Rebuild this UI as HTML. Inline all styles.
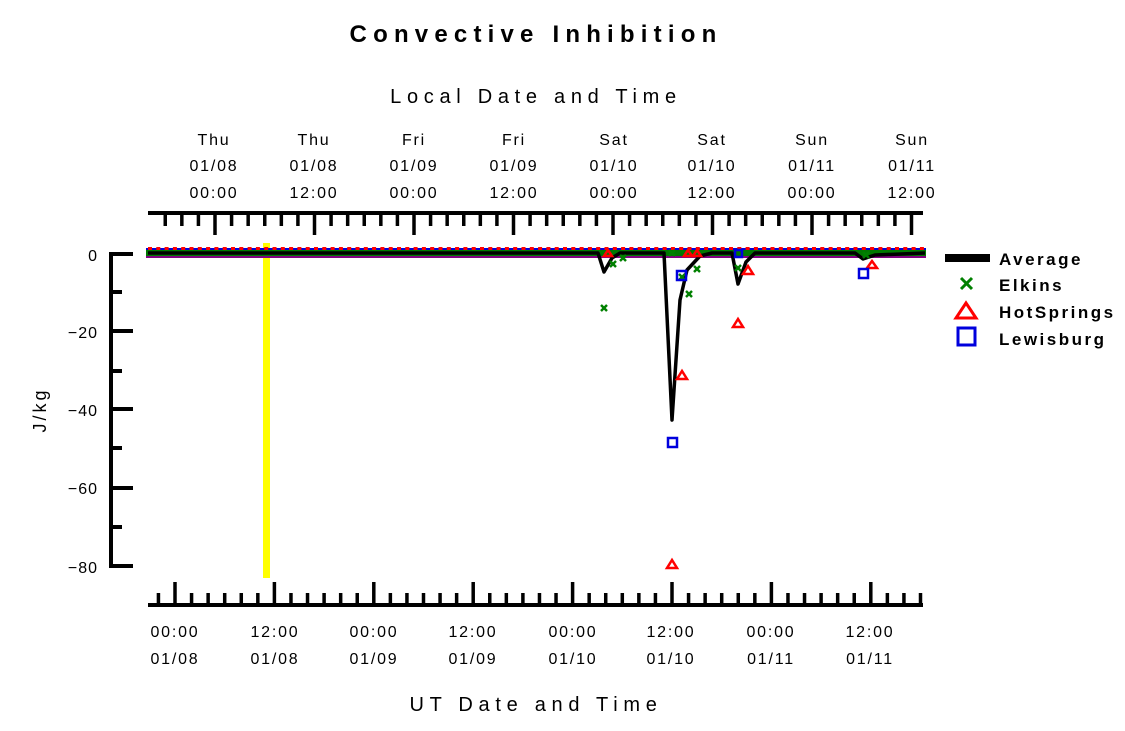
<!DOCTYPE html>
<html><head><meta charset="utf-8"><style>
html,body{margin:0;padding:0;background:#fff;}
svg{display:block;font-family:"Liberation Sans",sans-serif;}
.t{font-size:16px;letter-spacing:1.8px;text-anchor:middle;fill:#000;}
.yl{font-size:16px;letter-spacing:1px;text-anchor:end;}
.lg{font-size:17px;font-weight:bold;letter-spacing:2.5px;}
</style></head><body>
<svg id="s" width="1125" height="731" viewBox="0 0 1125 731" xmlns="http://www.w3.org/2000/svg">
<text x="536" y="42" style="font-size:24px;font-weight:bold;letter-spacing:6.2px;text-anchor:middle">Convective Inhibition</text>
<text x="536" y="103" style="font-size:20px;letter-spacing:5.7px;text-anchor:middle">Local Date and Time</text>
<text x="536" y="711" style="font-size:20px;letter-spacing:5.7px;text-anchor:middle">UT Date and Time</text>
<text transform="translate(46,410) rotate(-90)" style="font-size:18px;letter-spacing:3px;text-anchor:middle">J/kg</text>

<g class="t">
<text x="214" y="145">Thu</text><text x="214" y="171">01/08</text><text x="214" y="198">00:00</text>
<text x="314" y="145">Thu</text><text x="314" y="171">01/08</text><text x="314" y="198">12:00</text>
<text x="414" y="145">Fri</text><text x="414" y="171">01/09</text><text x="414" y="198">00:00</text>
<text x="514" y="145">Fri</text><text x="514" y="171">01/09</text><text x="514" y="198">12:00</text>
<text x="614" y="145">Sat</text><text x="614" y="171">01/10</text><text x="614" y="198">00:00</text>
<text x="712" y="145">Sat</text><text x="712" y="171">01/10</text><text x="712" y="198">12:00</text>
<text x="812" y="145">Sun</text><text x="812" y="171">01/11</text><text x="812" y="198">00:00</text>
<text x="912" y="145">Sun</text><text x="912" y="171">01/11</text><text x="912" y="198">12:00</text>

<text x="175" y="637">00:00</text><text x="175" y="664">01/08</text>
<text x="275" y="637">12:00</text><text x="275" y="664">01/08</text>
<text x="374" y="637">00:00</text><text x="374" y="664">01/09</text>
<text x="473" y="637">12:00</text><text x="473" y="664">01/09</text>
<text x="573" y="637">00:00</text><text x="573" y="664">01/10</text>
<text x="671" y="637">12:00</text><text x="671" y="664">01/10</text>
<text x="771" y="637">00:00</text><text x="771" y="664">01/11</text>
<text x="870" y="637">12:00</text><text x="870" y="664">01/11</text>
</g>
<g class="yl">
<text x="98" y="261">0</text><text x="98" y="338">−20</text><text x="98" y="416">−40</text><text x="98" y="494">−60</text><text x="98" y="573">−80</text>
</g>

<g stroke="#000" stroke-width="4" fill="none">
<line x1="148" y1="213" x2="923" y2="213"/>
<line x1="148" y1="605" x2="923" y2="605"/>
<line x1="111" y1="252" x2="111" y2="568"/>
<line x1="109" y1="254" x2="133" y2="254"/><line x1="109" y1="331" x2="133" y2="331"/><line x1="109" y1="409" x2="133" y2="409"/><line x1="109" y1="488" x2="133" y2="488"/><line x1="109" y1="566" x2="133" y2="566"/>
<line x1="109" y1="292" x2="122" y2="292"/><line x1="109" y1="371" x2="122" y2="371"/><line x1="109" y1="448" x2="122" y2="448"/><line x1="109" y1="527" x2="122" y2="527"/>
</g>
<g id="ticks" stroke="#000" stroke-width="3.5"></g>

<rect x="263" y="243" width="7" height="335" fill="#ffff00"/>

<rect x="146" y="256" width="780" height="2" fill="#800080"/>
<rect x="146" y="248" width="780" height="3" fill="#0000dd"/>
<rect x="146" y="250" width="780" height="6" fill="#007700"/>
<g id="dots" fill="#ff0000"></g>

<polyline fill="none" stroke="#000" stroke-width="3.5" stroke-linejoin="round"
 points="148,253 598,253 604,272 612,258 620,253 664,253 672,420 680,300 687,270 700,256 712,253 732,253 738,284 746,262 755,253 855,253 863,259 875,255 925,253"/>

<g stroke="#008000" stroke-width="2.5" id="xs"></g>
<g stroke="#ff0000" stroke-width="2.5" fill="none">
<path d="M672,560 l-5,8 h10 z"/><path d="M682,371 l-5,8 h10 z"/><path d="M738,319 l-5,8 h10 z"/><path d="M748,266 l-5,8 h10 z"/><path d="M872,261 l-5,7 h10 z"/><path d="M608,250 l-4,6 h8 z"/><path d="M688,250 l-4,6 h8 z"/><path d="M697,250 l-4,6 h8 z"/>
</g>
<g stroke="#0000dd" stroke-width="2.5" fill="none">
<rect x="668" y="438" width="9" height="9"/><rect x="677" y="271" width="9" height="9"/><rect x="859" y="269" width="9" height="9"/><rect x="735" y="250" width="7" height="7"/>
</g>

<rect x="945" y="254" width="45" height="8" fill="#000"/>
<text class="lg" x="999" y="265">Average</text>
<g stroke="#008000" stroke-width="3"><line x1="961" y1="278" x2="972" y2="289"/><line x1="972" y1="278" x2="961" y2="289"/></g>
<text class="lg" x="999" y="291">Elkins</text>
<path d="M966,303 l-10,15 h20 z" fill="none" stroke="#ff0000" stroke-width="3"/>
<text class="lg" x="999" y="318">HotSprings</text>
<rect x="958" y="328" width="17" height="17" fill="none" stroke="#0000dd" stroke-width="3"/>
<text class="lg" x="999" y="345">Lewisburg</text>
</svg>
<script>
var ns="http://www.w3.org/2000/svg",t=document.getElementById("ticks");
function L(x1,y1,x2,y2){var l=document.createElementNS(ns,"line");l.setAttribute("x1",x1);l.setAttribute("y1",y1);l.setAttribute("x2",x2);l.setAttribute("y2",y2);t.appendChild(l);}
for(var k=-4;k<=42;k++){var x=215+k*99.5/6;if(x<149||x>922)continue;L(x,213,x,k%6==0?235:226);}
for(var k=-1;k<=45;k++){var x=175+k*99.4/6;if(x<149||x>922)continue;L(x,605,x,k%6==0?582:593);}
var d=document.getElementById("dots");
for(var x=148;x<926;x+=8.3){var c=document.createElementNS(ns,"rect");c.setAttribute("x",x);c.setAttribute("y",247);c.setAttribute("width",4);c.setAttribute("height",3);d.appendChild(c);}
var xs=document.getElementById("xs"),P=[[604,308],[613,264],[623,258],[682,277],[689,294],[697,269],[672,253],[738,268],[866,255]];
P.forEach(function(p){L2(p[0]-3,p[1]-3,p[0]+3,p[1]+3);L2(p[0]+3,p[1]-3,p[0]-3,p[1]+3);});
function L2(a,b,c,e){var l=document.createElementNS(ns,"line");l.setAttribute("x1",a);l.setAttribute("y1",b);l.setAttribute("x2",c);l.setAttribute("y2",e);xs.appendChild(l);}
</script>
</body></html>
